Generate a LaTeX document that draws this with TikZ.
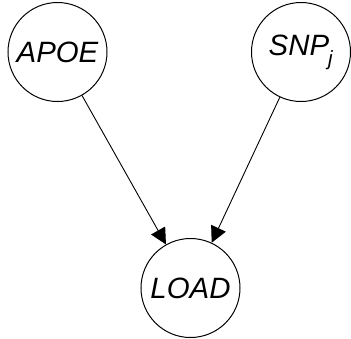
\documentclass[tikz,border=0pt]{standalone}
\usepackage{fontspec}
\setmainfont{Liberation Sans}
\usetikzlibrary{arrows.meta}
\begin{document}
\begin{tikzpicture}[x=1bp,y=-1bp,
  var/.style={draw=black,circle,line width=1bp,minimum size=99bp,inner sep=0pt,
    font=\fontsize{29.5}{35}\selectfont\itshape},
  edge/.style={line width=0.9bp,-{Triangle[length=16bp,width=16bp]}}]
\useasboundingbox (0,0) rectangle (351,339);
\node[var] (apoe) at (57.5,52) {APOE};
\node[var] (snp) at (301,52) {SNP\textsubscript{\kern-1pt\raisebox{-0.6ex}{j}}};
\node[var] (load) at (190.5,288) {LOAD};
\draw[edge] (apoe) -- (load);
\draw[edge] (snp) -- (load);
\end{tikzpicture}
\end{document}
